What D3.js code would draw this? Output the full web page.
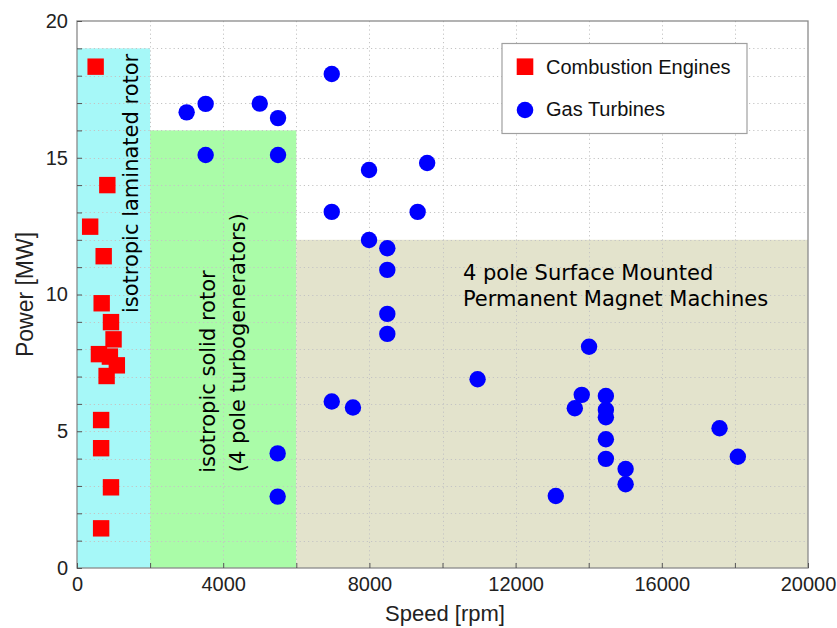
<!DOCTYPE html>
<html>
<head>
<meta charset="utf-8">
<script src="https://cdn.jsdelivr.net/npm/d3@7"></script>
<style>
  html, body { margin: 0; padding: 0; background: #fff; }
  svg { display: block; }
</style>
</head>
<body>
<svg id="chart" width="837" height="628"></svg>
<script>
// ---- data ----
const ceSpeed = [510, 830, 360, 730, 675, 930, 1000, 600, 900, 1090, 810, 660, 660, 930, 660];
const cePower = [18.33, 14.0, 12.48, 11.4, 9.68, 8.99, 8.36, 7.82, 7.73, 7.41, 7.02, 5.41, 4.38, 2.95, 1.45];

const gtSpeed = [3000, 3520, 5000, 5500, 3520, 5500, 6970, 7990, 9580, 6970, 9320, 7990, 8490, 8490, 8490, 8490,
                 10960, 6970, 7550, 5490, 5490, 13100, 14010, 13810, 13620, 14470, 14470, 14470, 14470, 14470,
                 15010, 15010, 17580, 18080];
const gtPower = [16.66, 16.97, 16.98, 16.45, 15.10, 15.10, 18.06, 14.55, 14.81, 13.02, 13.02, 11.99, 11.69, 10.90, 9.29, 8.56,
                 6.90, 6.09, 5.87, 4.19, 2.61, 2.63, 8.09, 6.33, 5.84, 6.29, 5.78, 5.51, 4.71, 3.99,
                 3.62, 3.06, 5.11, 4.07];

const regionNames = ["laminated", "solid", "spm"];
const regionX0 = [0, 2000, 6000];
const regionX1 = [2000, 6000, 20000];
const regionTop = [19, 16, 12];

const xTicks = [0, 2000, 4000, 6000, 8000, 10000, 12000, 14000, 16000, 18000, 20000];
const xTickLabels = ["0", "", "4000", "", "8000", "", "12000", "", "16000", "", "20000"];
const yTicks = d3.range(0, 21, 1);
const yTickLabels = yTicks.map(v => v % 5 === 0 ? String(v) : "");

const seriesNames = ["Combustion Engines", "Gas Turbines"];

// ---- layout ----
const svg = d3.select("#chart");
const x = d3.scaleLinear().domain([0, 20000]).range([77, 808]);
const y = d3.scaleLinear().domain([0, 20]).range([568, 21]);
const regionColor = d3.scaleOrdinal().domain(regionNames).range(["#a6f8f8", "#aafca8", "#e3e3cc"]);

const axisFont = "'Liberation Sans', Arial, sans-serif";
const labelFont = "'DejaVu Sans', Verdana, sans-serif";

// regions
svg.append("g").selectAll("rect")
  .data(regionNames)
  .join("rect")
  .attr("x", (d, i) => x(regionX0[i]))
  .attr("y", (d, i) => y(regionTop[i]))
  .attr("width", (d, i) => x(regionX1[i]) - x(regionX0[i]))
  .attr("height", (d, i) => y(0) - y(regionTop[i]))
  .attr("fill", d => regionColor(d));

// grid
const grid = svg.append("g").attr("stroke", "#c4c4c4").attr("stroke-width", 1).attr("stroke-dasharray", "1.2,3");
grid.selectAll("line.v").data(xTicks.slice(1, -1)).join("line").attr("class", "v")
  .attr("x1", d => Math.round(x(d)) + 0.5).attr("x2", d => Math.round(x(d)) + 0.5)
  .attr("y1", y(20)).attr("y2", y(0));
grid.selectAll("line.h").data(yTicks.slice(1, -1)).join("line").attr("class", "h")
  .attr("y1", d => Math.round(y(d)) + 0.5).attr("y2", d => Math.round(y(d)) + 0.5)
  .attr("x1", x(0)).attr("x2", x(20000));

// region labels
const lab = svg.append("g").attr("font-family", labelFont).attr("font-size", 21).attr("fill", "#000");
lab.append("text").attr("transform", `translate(${x(1670)},${y(9.32)}) rotate(-90)`).text("isotropic laminated rotor");
lab.append("text").attr("transform", `translate(${x(3775)},${y(3.48)}) rotate(-90)`).text("isotropic solid rotor");
lab.append("text").attr("transform", `translate(${x(4595)},${y(3.5)}) rotate(-90)`).text("(4 pole turbogenerators)");
lab.append("text").attr("x", x(10560)).attr("y", y(10.53)).text("4 pole Surface Mounted");
lab.append("text").attr("x", x(10560)).attr("y", y(9.58)).text("Permanent Magnet Machines");

// points
svg.append("g").selectAll("rect")
  .data(ceSpeed.map((s, i) => [s, cePower[i]]))
  .join("rect")
  .attr("x", d => x(d[0]) - 8.2).attr("y", d => y(d[1]) - 8.2)
  .attr("width", 16.4).attr("height", 16.4)
  .attr("fill", "#ff0000");

svg.append("g").selectAll("circle")
  .data(gtSpeed.map((s, i) => [s, gtPower[i]]))
  .join("circle")
  .attr("cx", d => x(d[0])).attr("cy", d => y(d[1])).attr("r", 8.2)
  .attr("fill", "#0000ff");

// axes box
svg.append("rect").attr("x", x(0)).attr("y", y(20)).attr("width", x(20000) - x(0)).attr("height", y(0) - y(20))
  .attr("fill", "none").attr("stroke", "#8a8a8a").attr("stroke-width", 1.3);

// x axis
const xAxis = svg.append("g").attr("transform", `translate(0,${y(0)})`)
  .call(d3.axisBottom(x).tickValues(xTicks).tickSize(-5).tickPadding(9)
    .tickFormat((d, i) => xTickLabels[i]));
xAxis.select(".domain").remove();
xAxis.selectAll(".tick line").attr("stroke", "#555");
xAxis.selectAll("text").attr("font-family", axisFont).attr("font-size", 20).attr("fill", "#222");

// y axis
const yAxis = svg.append("g").attr("transform", `translate(${x(0)},0)`)
  .call(d3.axisLeft(y).tickValues(yTicks).tickSize(-5).tickPadding(9)
    .tickFormat((d, i) => yTickLabels[i]));
yAxis.select(".domain").remove();
yAxis.selectAll(".tick line").attr("stroke", "#555");
yAxis.selectAll("text").attr("font-family", axisFont).attr("font-size", 20).attr("fill", "#222");

// axis titles
svg.append("text").attr("x", 445).attr("y", 621).attr("text-anchor", "middle")
  .attr("font-family", axisFont).attr("font-size", 22).attr("fill", "#222").text("Speed [rpm]");
svg.append("text").attr("transform", `translate(33,${(y(0) + y(20)) / 2}) rotate(-90)`).attr("text-anchor", "middle")
  .attr("font-family", axisFont).attr("font-size", 23).attr("fill", "#222").text("Power [MW]");

// legend
const leg = svg.append("g");
leg.append("rect").attr("x", 502).attr("y", 43.5).attr("width", 245).attr("height", 90)
  .attr("fill", "#fff").attr("stroke", "#a0a0a0").attr("stroke-width", 1.2);
leg.append("rect").attr("x", 525 - 8.3).attr("y", 66.7 - 8.3).attr("width", 16.6).attr("height", 16.6).attr("fill", "#ff0000");
leg.append("circle").attr("cx", 525).attr("cy", 110).attr("r", 8.3).attr("fill", "#0000ff");
leg.selectAll("text").data(seriesNames).join("text")
  .attr("x", 546).attr("y", (d, i) => [74, 116][i])
  .attr("font-family", axisFont).attr("font-size", 20).attr("fill", "#111").text(d => d);
</script>
</body>
</html>
